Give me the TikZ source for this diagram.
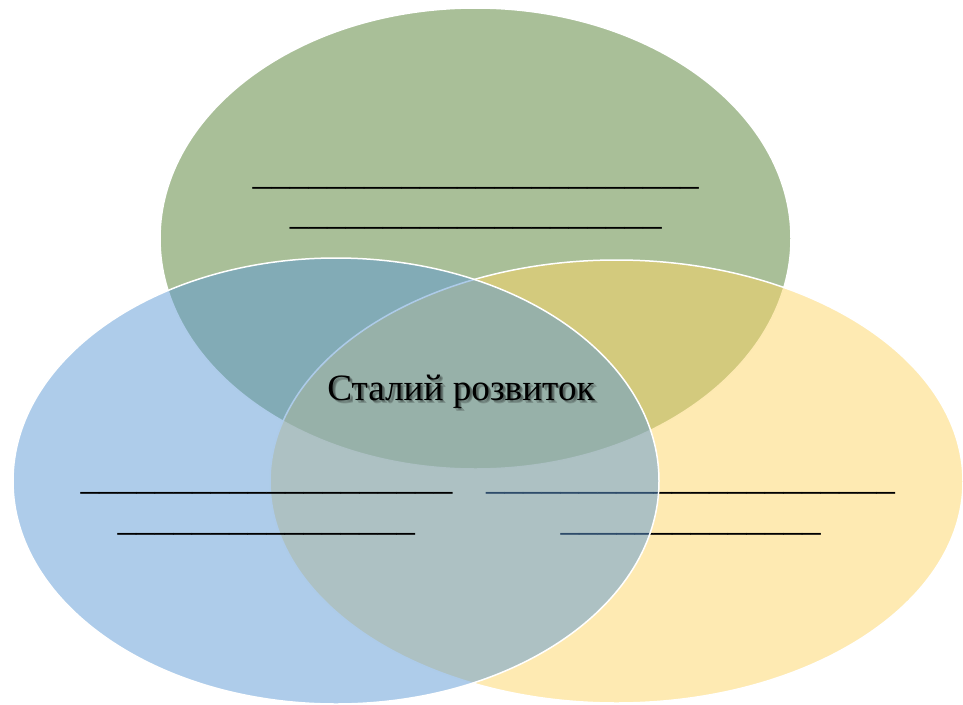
\documentclass[tikz,border=0pt]{standalone}
\usepackage{fontspec}
\setmainfont{Liberation Serif}
\usetikzlibrary{shapes.geometric}
\definecolor{vgreen}{RGB}{83,127,49}
\definecolor{vyellow}{RGB}{253,213,101}
\definecolor{vblue}{RGB}{93,153,213}
\begin{document}
\begin{tikzpicture}[x=1pt,y=-1pt,
  venn/.style={ellipse, draw=white, line width=1.5pt, fill opacity=0.5, draw opacity=1, inner sep=0pt, outer sep=0pt},
  blank/.style={inner sep=0pt, anchor=base, font=\fontsize{37.17pt}{40pt}\selectfont, text=black},
  titletext/.style={inner sep=0pt, anchor=base, font=\fontsize{37.2pt}{40pt}\selectfont},
  shadowtext/.style={titletext, text=black, text opacity=0.18}]
\useasboundingbox (0,0) rectangle (963,704);
% top (green)
\node[venn, fill=vgreen, minimum width=631pt, minimum height=461pt] (top) at (475.5,238.5) {};
\node[blank] (top1) at (475.7,184.0) {\_\_\_\_\_\_\_\_\_\_\_\_\_\_\_\_\_\_\_\_\_\_\_\_};
\node[blank] (top2) at (475.8,224.6) {\_\_\_\_\_\_\_\_\_\_\_\_\_\_\_\_\_\_\_\_};
% right (yellow)
\node[venn, fill=vyellow, minimum width=693pt, minimum height=443pt] (right) at (616.5,481.5) {};
\node[blank] (right1) at (690.5,489.6) {\_\_\_\_\_\_\_\_\_\_\_\_\_\_\_\_\_\_\_\_\_\_};
\node[blank] (right2) at (690.7,530.6) {\_\_\_\_\_\_\_\_\_\_\_\_\_\_};
% left (blue)
\node[venn, fill=vblue, minimum width=646pt, minimum height=446pt] (left) at (336,481) {};
\node[blank] (left1) at (266.5,489.6) {\_\_\_\_\_\_\_\_\_\_\_\_\_\_\_\_\_\_\_\_};
\node[blank] (left2) at (266.3,530.6) {\_\_\_\_\_\_\_\_\_\_\_\_\_\_\_\_};
% centre title with soft shadow
\node[shadowtext] (sh1) at (463.5,402.5) {Сталий розвиток};
\node[shadowtext] (sh2) at (462.5,401.5) {Сталий розвиток};
\node[shadowtext] (sh3) at (464.0,403.5) {Сталий розвиток};
\node[titletext] (centre) at (461,400) {Сталий розвиток};
\end{tikzpicture}
\end{document}
